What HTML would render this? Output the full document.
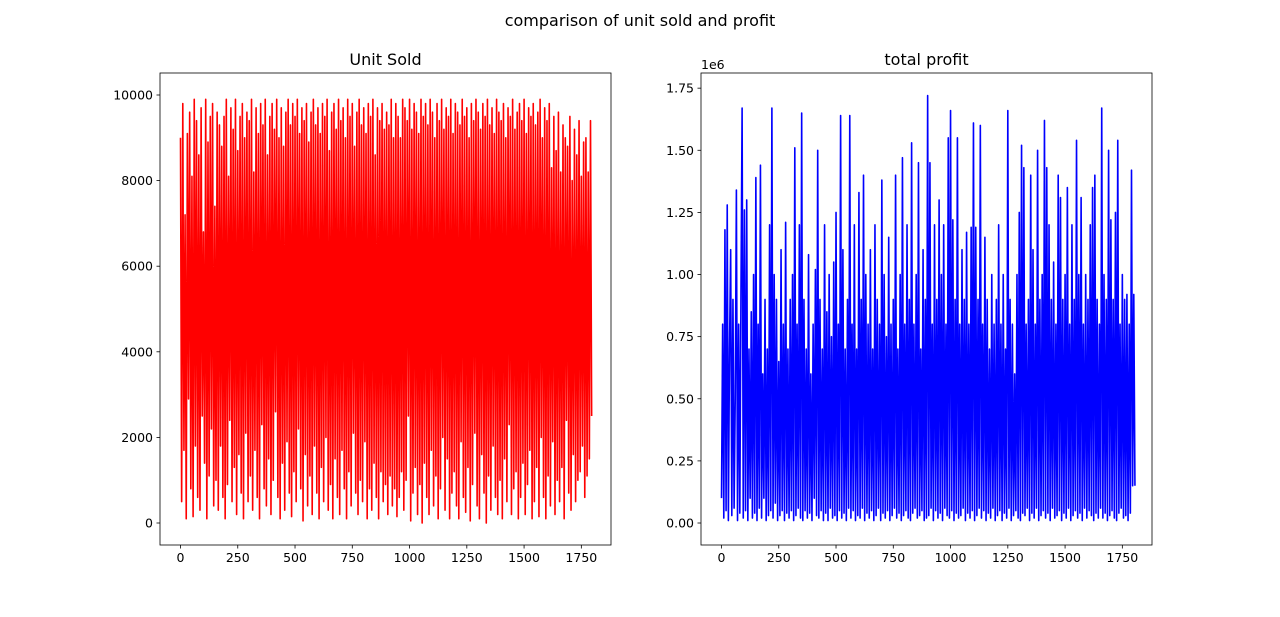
<!DOCTYPE html>
<html><head><meta charset="utf-8"><style>
body{margin:0;background:#fff;}
svg text{font-family:"DejaVu Sans","Liberation Sans",sans-serif;fill:#000;}
</style></head><body>
<svg id="fig" width="1280" height="612" xmlns="http://www.w3.org/2000/svg">
<text x="640" y="26" font-size="16" text-anchor="middle">comparison of unit sold and profit</text>
</svg>
<script>
const unitsSold = [
9000,500,9800,1700,7200,100,9100,2900,9600,800,8100,150,9900,1800,9400,600,8600,300,9700,2500,6800,1400,9900,100,8900,1100,9500,2200,9800,400,
7400,1000,9600,300,9300,1800,8800,600,9500,100,9900,900,8100,2400,9700,500,9200,1300,9900,200,8700,1600,9500,700,9800,100,9000,2100,9600,500,
9400,1100,9900,300,8200,1700,9700,600,9100,100,9800,2300,9300,800,9900,400,8600,1500,9500,200,9800,1000,9200,2600,9900,600,9000,100,9700,1400,
8800,300,9600,1900,9900,700,9300,150,9800,1200,9500,500,9900,2200,9100,800,9700,50,9400,1600,9800,400,8900,1100,9600,200,9900,1800,9300,700,
9700,100,9100,1300,9800,500,9500,2000,9900,300,8700,900,9600,100,9800,1500,9200,600,9900,200,9400,1700,9700,800,9000,100,9900,1200,9500,400,
9800,2100,8800,700,9600,200,9900,1000,9300,500,9700,1900,9100,100,9800,800,9500,300,9900,1400,8600,600,9700,100,9400,1200,9800,500,9200,900,
9600,200,9300,1100,9900,400,9000,800,9800,150,9500,600,9000,1200,9900,300,9700,1000,9400,2500,9900,50,9200,700,9800,1300,9600,200,9100,900,
9900,0,9500,1400,9800,600,9300,200,9900,1700,9600,400,9000,1100,9800,100,9400,800,9900,2000,9200,300,9700,1500,9500,100,9900,700,9100,1200,
9800,400,9600,100,9300,1900,9900,600,9500,250,9700,1300,9000,50,9800,900,9400,2100,9900,400,9600,100,9200,1600,9800,700,9500,0,9900,1100,
9300,300,9700,1800,9100,600,9900,200,9600,1000,9400,100,9800,1500,9000,500,9700,2300,9500,200,9900,800,9200,1200,9600,100,9800,600,9400,1400,
9900,200,9100,900,9700,1700,9500,100,9800,500,9300,1300,9600,150,9900,2000,9000,600,9700,100,9400,1100,9800,400,8300,1900,9500,200,8700,1000,
9600,500,8200,1300,9300,100,9000,2400,8800,700,9500,300,8000,1600,9200,500,8600,1000,9400,1200,8100,1800,8900,600,9000,1100,8200,1500,9400,2500];
const profitK = [
100,800,20,1180,50,1280,10,700,1100,30,900,60,500,1340,10,800,40,930,1670,20,1260,50,1300,10,700,100,850,20,1000,40,
1390,10,800,60,1440,20,600,100,900,10,700,30,1200,50,1670,20,1000,80,900,10,650,30,1100,50,800,10,1210,40,700,20,
900,50,1000,10,1510,30,800,60,1200,20,1650,10,900,50,700,20,1080,40,600,10,800,100,1020,30,1500,20,900,50,700,10,
1200,40,850,10,1000,60,750,20,1050,30,1250,10,800,50,1640,20,1100,40,700,10,900,60,1640,20,800,50,1200,10,700,30,
1330,20,900,60,1400,10,1000,40,800,20,1100,50,700,10,1200,30,900,60,800,10,1380,40,1000,20,750,50,1150,10,800,30,
900,60,1400,20,700,40,1000,10,1470,30,800,50,1200,20,900,10,1530,40,800,60,1000,20,1450,30,700,50,1100,10,900,20,
1720,30,1450,60,800,10,1200,50,900,20,1300,40,1000,10,1200,60,800,30,1550,20,1660,50,1220,10,900,40,1550,20,800,30,
1100,60,900,10,1170,40,800,20,1190,50,1610,10,1190,30,900,60,1600,20,800,50,1150,10,900,40,700,20,1000,60,800,10,
900,30,1200,50,800,10,1000,40,700,20,1660,60,900,10,800,30,600,50,1000,20,1250,10,1520,40,1430,30,800,60,900,10,
1400,40,1100,20,800,60,1500,10,900,30,1000,50,1620,20,1430,40,1200,10,900,60,1050,20,800,30,1400,50,1310,10,900,40,
1000,20,1350,60,800,10,1200,30,900,50,1540,20,1000,40,1310,10,800,60,1000,20,900,50,1200,30,1350,10,1400,40,900,20,
800,60,1670,20,1000,40,900,10,1500,30,1220,50,900,20,1250,10,1540,40,800,60,1000,20,900,30,920,10,800,40,1420,150,920,150];
const xTicks = [0,250,500,750,1000,1250,1500,1750];
const unitTicks = [0,2000,4000,6000,8000,10000];
const profitTicks = [0,0.25,0.5,0.75,1.0,1.25,1.5,1.75];
const STRIDE = 5;

const NS="http://www.w3.org/2000/svg";
const svg=document.getElementById('fig');
function mk(tag,attrs,parent){const e=document.createElementNS(NS,tag);for(const k in attrs)e.setAttribute(k,attrs[k]);(parent||svg).appendChild(e);return e;}

function panel(name,left,title,vals,scale,yTicks,yFmt,ymin,ymax,color,offsetLabel){
  const top=73,bottom=545,right=left+451;
  const xmin=-89.5,xmax=1879.5;
  const xs=v=>left+(v-xmin)/(xmax-xmin)*(right-left);
  const ys=v=>bottom-(v-ymin)/(ymax-ymin)*(bottom-top);
  const g=mk('g',{});
  
  
  let d='';
  vals.forEach((v,i)=>{d+=(i?'L':'M')+xs(i*STRIDE).toFixed(2)+','+ys(v*scale).toFixed(2);});
  const p=mk('path',{d:d,fill:'none',stroke:color,'stroke-width':1.6,'stroke-linejoin':'round'},g);
  
  
  const fr=mk('rect',{x:left,y:top,width:right-left,height:bottom-top,fill:'none',stroke:'#000','stroke-width':0.8},g);
  
  
  xTicks.forEach(t=>{const x=xs(t);
    mk('line',{x1:x,x2:x,y1:bottom,y2:bottom+3.5,stroke:'#000','stroke-width':0.8},g);
    const tx=mk('text',{x:x,y:bottom+17,'font-size':12.5,'text-anchor':'middle'},g);tx.textContent=t;
    
    });
  yTicks.forEach(t=>{const y=ys(t*(offsetLabel?1e6:1));
    mk('line',{x1:left,x2:left-3.5,y1:y,y2:y,stroke:'#000','stroke-width':0.8},g);
    const tx=mk('text',{x:left-7,y:y+4.5,'font-size':12.5,'text-anchor':'end'},g);tx.textContent=yFmt(t);
    
    });
  const tt=mk('text',{x:(left+right)/2,y:65,'font-size':16,'text-anchor':'middle'},g);tt.textContent=title;
  
  
  if(offsetLabel){const o=mk('text',{x:left,y:69,'font-size':12.5},g);o.textContent=offsetLabel;
    
    }
}
panel('unit-sold-chart',160,'Unit Sold',unitsSold,1,unitTicks,t=>String(t),-514,10514,'#ff0000',null);
panel('total-profit-chart',701,'total profit',profitK,1000,profitTicks,t=>t.toFixed(2),-88500,1811000,'#0000ff','1e6');
</script>
</body></html>
